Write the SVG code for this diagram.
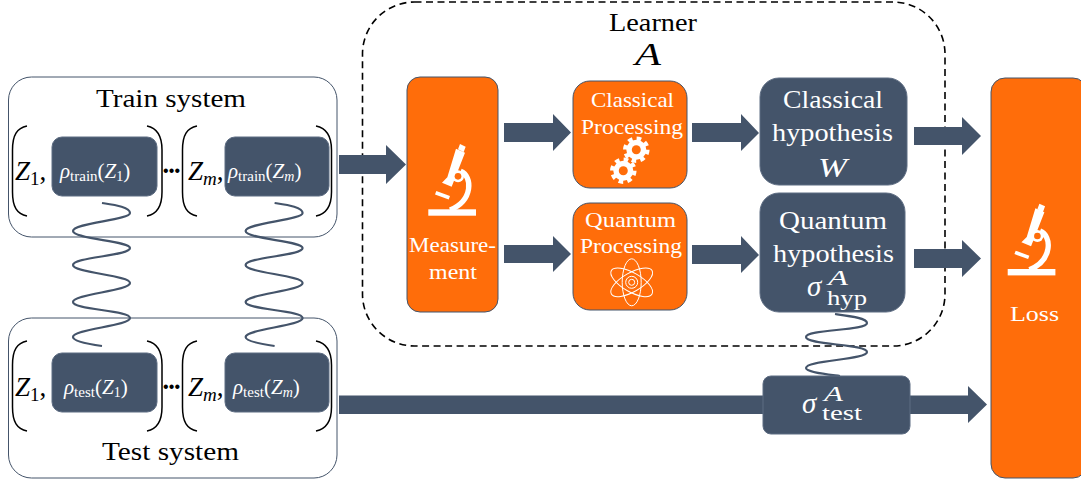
<svg xmlns="http://www.w3.org/2000/svg" xmlns:xlink="http://www.w3.org/1999/xlink" width="1081" height="482" viewBox="0 0 1081 482">
<style>
text{font-family:"Liberation Serif","DejaVu Serif",serif;fill:#000}
.w{fill:#fff}
.i{font-style:italic}
.sys{fill:#fff;stroke:#44546a;stroke-width:1}
.dk{fill:#44546a;stroke:#5d6c82;stroke-width:1}
.or{fill:#ff6d0a;stroke:#44546a;stroke-width:1}
.par{fill:none;stroke:#000;stroke-width:1.5}
.wig{fill:none;stroke:#44546a;stroke-width:2.2}
.arr{fill:#44546a}
.dots{font-family:"Liberation Sans",sans-serif}
.ln{fill:none;stroke:#fff;stroke-width:1}
</style>
<defs>
<g id="scope">
<rect x="428.3" y="209.3" width="47.7" height="6.4" fill="#fff"/>
<g transform="translate(400 70) scale(.33333)">
<path d="M180 222L197 230L191 246L174 238ZM168 236L195 248L155 350L126 338L136 328L142 322Z" fill="#fff"/>
<path d="M182 304C218 318 220 392 150 420" fill="none" stroke="#fff" stroke-width="16"/>
<path d="M107 368L148 383" fill="none" stroke="#fff" stroke-width="11"/>
<circle cx="174" cy="319" r="18" fill="#fff"/>
<circle cx="174" cy="319" r="10" fill="#ff6d0a"/>
</g>
</g>
<g id="gear">
<circle r="10" fill="#fff"/>
<circle r="11" fill="none" stroke="#fff" stroke-width="4.5" stroke-dasharray="4.5 4.14"/>
<circle r="4.5" fill="#ff6d0a"/>
</g>
<path id="wave" class="wig" d="M102 203C115 205 130 207 130 213C130 220 73 223 73 231C73 239 130 241 130 248C130 256 73 257 73 265C73 273 130 275 130 283C130 291 73 294 73 302C73 310 130 310 130 318C130 326 73 329 73 337C73 341 88 344 102 346"/>
</defs>

<g id="learner">
<rect x="362.5" y="2" width="582.5" height="344" rx="52" fill="#fff" stroke="#000" stroke-width="1.6" stroke-dasharray="7 4.5"/>
<text x="609" y="31" font-size="25" textLength="88" lengthAdjust="spacingAndGlyphs">Learner</text>
<text x="635" y="65" font-size="32" class="i" textLength="26" lengthAdjust="spacingAndGlyphs">A</text>
</g>

<g id="train-system">
<rect class="sys" x="8.5" y="77" width="328.5" height="160" rx="23"/>
<text x="96" y="107" font-size="26" textLength="150" lengthAdjust="spacingAndGlyphs">Train system</text>
<path class="par" d="M27 126C17 128 12.500 135 12.500 150L12.500 192C12.500 207 17 214 27 216M147 126C157 128 162 135 162 150L162 192C162 207 157 214 147 216M197 126C187 128 182.500 135 182.500 150L182.500 192C182.500 207 187 214 197 216M316 126C326 128 331.500 135 331.500 150L331.500 192C331.500 207 326 214 316 216"/>
<text x="15" y="180" font-size="27" class="i">Z<tspan font-size="19" dy="5" font-style="normal">1</tspan><tspan dy="-5" font-style="normal">,</tspan></text>
<text class="dots" x="163" y="176" font-size="16" textLength="17">•••</text>
<text x="188" y="180" font-size="27" class="i">Z<tspan font-size="19" dy="5">m</tspan><tspan dy="-5" font-style="normal">,</tspan></text>
</g>
<g id="rho-train-1">
<rect class="dk" x="52" y="137" width="105" height="59" rx="10"/>
<text class="w" x="60" y="178" font-size="21"><tspan class="i">ρ</tspan><tspan font-size="15" dy="3">train</tspan><tspan dy="-3">(</tspan><tspan class="i">Z</tspan><tspan font-size="14" dy="3">1</tspan><tspan dy="-3">)</tspan></text>
</g>
<g id="rho-train-m">
<rect class="dk" x="225" y="137" width="104" height="59" rx="10"/>
<text class="w" x="228" y="178" font-size="21"><tspan class="i">ρ</tspan><tspan font-size="15" dy="3">train</tspan><tspan dy="-3">(</tspan><tspan class="i">Z</tspan><tspan font-size="14" dy="3" class="i">m</tspan><tspan dy="-3">)</tspan></text>
</g>

<g id="test-system">
<rect class="sys" x="8.500" y="318" width="328.500" height="160" rx="23"/>
<text x="102" y="460" font-size="26" textLength="137" lengthAdjust="spacingAndGlyphs">Test system</text>
<path class="par" d="M27 341C17 343 12.500 350 12.500 365L12.500 407C12.500 422 17 429 27 431M147 341C157 343 162 350 162 365L162 407C162 422 157 429 147 431M197 341C187 343 182.500 350 182.500 365L182.500 407C182.500 422 187 429 197 431M316 341C326 343 331.500 350 331.500 365L331.500 407C331.500 422 326 429 316 431"/>
<text x="15" y="396" font-size="27" class="i">Z<tspan font-size="19" dy="5" font-style="normal">1</tspan><tspan dy="-5" font-style="normal">,</tspan></text>
<text class="dots" x="163" y="392" font-size="16" textLength="17">•••</text>
<text x="188" y="396" font-size="27" class="i">Z<tspan font-size="19" dy="5">m</tspan><tspan dy="-5" font-style="normal">,</tspan></text>
</g>
<g id="rho-test-1">
<rect class="dk" x="52" y="353" width="105" height="59" rx="10"/>
<text class="w" x="64" y="394" font-size="21"><tspan class="i">ρ</tspan><tspan font-size="15" dy="3">test</tspan><tspan dy="-3">(</tspan><tspan class="i">Z</tspan><tspan font-size="14" dy="3">1</tspan><tspan dy="-3">)</tspan></text>
</g>
<g id="rho-test-m">
<rect class="dk" x="225" y="353" width="104" height="59" rx="10"/>
<text class="w" x="233" y="394" font-size="21"><tspan class="i">ρ</tspan><tspan font-size="15" dy="3">test</tspan><tspan dy="-3">(</tspan><tspan class="i">Z</tspan><tspan font-size="14" dy="3" class="i">m</tspan><tspan dy="-3">)</tspan></text>
</g>

<g id="connectors">
<use xlink:href="#wave" href="#wave"/>
<use xlink:href="#wave" href="#wave" x="172.600"/>
<path class="wig" d="M835 314C850 316 867 318 867 323C867 331 806 329 806 337C806 345 867 344 867 352C867 360 806 360 806 368C806 372 825 374 840 376"/>
<path class="arr" d="M339 155H386V145L406 164.500L386 184V174H339Z"/>
<path class="arr" d="M504 123H553V114L571 132.500L553 151V142H504Z"/>
<path class="arr" d="M504 245H553V236L571 254L553 272V263H504Z"/>
<path class="arr" d="M692 123H741V114L759 133L741 151V142H692Z"/>
<path class="arr" d="M692 245H741V236L759 255L741 273V264H692Z"/>
<path class="arr" d="M914 127H962V117L981 136L962 155V145H914Z"/>
<path class="arr" d="M914 249H962V240L981 258.500L962 277V268H914Z"/>
<path class="arr" d="M339 395.500H968V386L987 404.500L968 423V414H339Z"/>
<path d="M945 80V300" fill="none" stroke="#000" stroke-width="1.600" stroke-dasharray="7 4.500" opacity="0"/>
</g>

<g id="measurement">
<rect class="or" x="407" y="77" width="91" height="235" rx="13"/>
<use xlink:href="#scope" href="#scope"/>
<text class="w" x="409" y="252" font-size="21" textLength="87" lengthAdjust="spacingAndGlyphs">Measure-</text>
<text class="w" x="429" y="279" font-size="21" textLength="48" lengthAdjust="spacingAndGlyphs">ment</text>
</g>
<g id="classical-processing">
<rect class="or" x="573" y="81" width="114" height="107" rx="17"/>
<text class="w" x="591" y="107" font-size="21" textLength="83" lengthAdjust="spacingAndGlyphs">Classical</text>
<text class="w" x="581" y="134" font-size="21" textLength="102" lengthAdjust="spacingAndGlyphs">Processing</text>
<use xlink:href="#gear" href="#gear" x="636.300" y="149.700"/>
<use xlink:href="#gear" href="#gear" x="623.300" y="170.700"/>
</g>
<g id="quantum-processing">
<rect class="or" x="573" y="203" width="114" height="107" rx="17"/>
<text class="w" x="585" y="227" font-size="21" textLength="91" lengthAdjust="spacingAndGlyphs">Quantum</text>
<text class="w" x="580" y="253" font-size="21" textLength="102" lengthAdjust="spacingAndGlyphs">Processing</text>
<g transform="translate(631.700 282.300)">
<ellipse class="ln" rx="9.500" ry="23.500"/>
<ellipse class="ln" rx="9.500" ry="23.500" transform="rotate(60)"/>
<ellipse class="ln" rx="9.500" ry="23.500" transform="rotate(-60)"/>
<circle class="ln" r="3"/>
<circle class="ln" r="6"/>
</g>
</g>
<g id="classical-hypothesis">
<rect class="dk" x="760" y="78" width="147" height="107" rx="19"/>
<text class="w" x="783" y="108" font-size="26" textLength="100" lengthAdjust="spacingAndGlyphs">Classical</text>
<text class="w" x="772" y="141" font-size="26" textLength="121" lengthAdjust="spacingAndGlyphs">hypothesis</text>
<text class="w i" x="818" y="177" font-size="27" textLength="29" lengthAdjust="spacingAndGlyphs">W</text>
</g>
<g id="quantum-hypothesis">
<rect class="dk" x="760" y="193" width="145" height="119" rx="19"/>
<text class="w" x="779" y="229" font-size="26" textLength="108" lengthAdjust="spacingAndGlyphs">Quantum</text>
<text class="w" x="773" y="262" font-size="26" textLength="121" lengthAdjust="spacingAndGlyphs">hypothesis</text>
<text class="w i" x="807" y="296" font-size="29">σ</text>
<text class="w i" x="828" y="285" font-size="22" textLength="20" lengthAdjust="spacingAndGlyphs">A</text>
<text class="w" x="827" y="305" font-size="22" textLength="40" lengthAdjust="spacingAndGlyphs">hyp</text>
</g>
<g id="sigma-test">
<rect class="dk" x="763" y="376" width="147" height="58" rx="8"/>
<text class="w i" x="802" y="413" font-size="29">σ</text>
<text class="w i" x="824" y="401" font-size="22" textLength="19" lengthAdjust="spacingAndGlyphs">A</text>
<text class="w" x="822" y="420" font-size="22" textLength="40" lengthAdjust="spacingAndGlyphs">test</text>
</g>
<g id="loss">
<rect class="or" x="991" y="78" width="96" height="400" rx="14"/>
<use xlink:href="#scope" href="#scope" x="579.400" y="59.700"/>
<text class="w" x="1010" y="321" font-size="22" textLength="49" lengthAdjust="spacingAndGlyphs">Loss</text>
</g>
</svg>
